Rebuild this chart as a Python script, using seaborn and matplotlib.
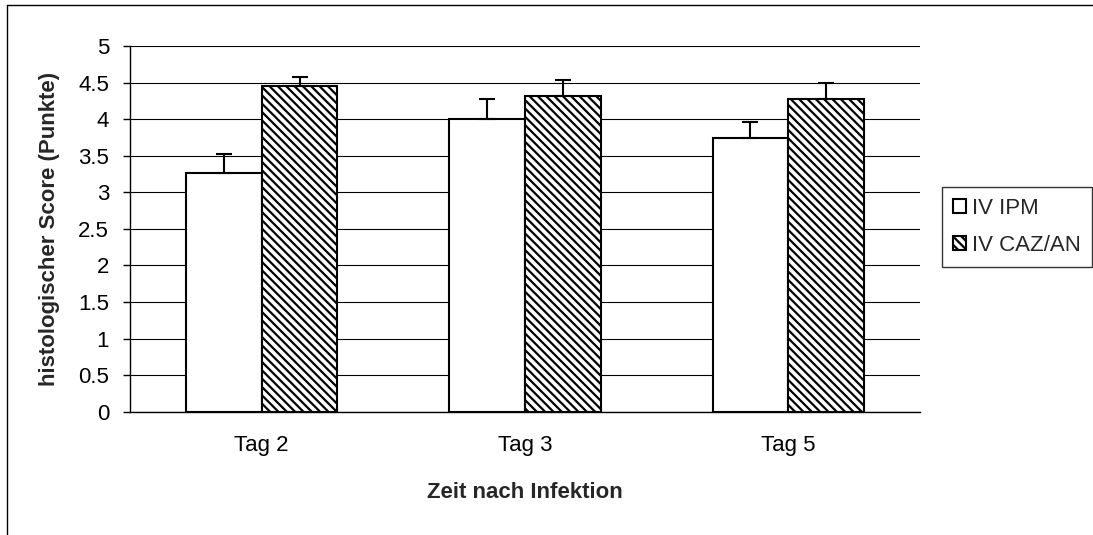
import matplotlib
matplotlib.use('Agg')
import matplotlib.pyplot as plt
import seaborn as sns
import pandas as pd
from matplotlib.lines import Line2D

# Data
days = ['Tag 2', 'Tag 3', 'Tag 5']
groups = ['IV IPM', 'IV CAZ/AN']
ipm_mean = [3.27, 4.00, 3.74]
ipm_err = [0.25, 0.28, 0.22]
caz_mean = [4.45, 4.31, 4.28]
caz_err = [0.13, 0.22, 0.22]
y_ticks = [0, 0.5, 1, 1.5, 2, 2.5, 3, 3.5, 4, 4.5, 5]

df = pd.DataFrame({
    'Tag': days * 2,
    'Gruppe': [groups[0]] * len(days) + [groups[1]] * len(days),
    'Score': ipm_mean + caz_mean,
})

sns.set_style('white')
plt.rcParams['font.family'] = ['Liberation Sans', 'DejaVu Sans']
plt.rcParams['hatch.linewidth'] = 1.6
plt.rcParams['hatch.color'] = 'black'

W, H = 1093, 535
fig = plt.figure(figsize=(W / 100, H / 100), dpi=100)
ax = fig.add_axes([130 / W, (H - 411.7) / H, 790 / W, 365.7 / H])

sns.barplot(data=df, x='Tag', y='Score', hue='Gruppe', order=days, hue_order=groups,
            width=0.575, errorbar=None, palette=['white', 'white'], saturation=1,
            edgecolor='black', linewidth=1.5, legend=False, ax=ax, zorder=3)

# one-sided error bars
for cont, errs in zip(ax.containers, [ipm_err, caz_err]):
    for bar, e in zip(cont, errs):
        x = bar.get_x() + bar.get_width() / 2
        ax.errorbar(x, bar.get_height(), yerr=[[0], [e]], fmt='none', ecolor='black',
                    elinewidth=1.5, capsize=5.5, capthick=1.5, zorder=4)

for bar in ax.containers[1]:
    bar.set_hatch('\\\\\\\\')

ax.set_ylim(0, 5)
ax.set_xlim(-0.5, len(days) - 0.5)
ax.set_yticks(y_ticks)
ax.set_yticklabels([f'{v:g}' for v in y_ticks])
ax.yaxis.grid(True, color='black', linewidth=0.8)
ax.set_axisbelow(True)

for s in ['top', 'right']:
    ax.spines[s].set_visible(False)
for s in ['left', 'bottom']:
    ax.spines[s].set_color('black')
    ax.spines[s].set_linewidth(1)

ax.set_xticks([i - 0.5 for i in range(len(days) + 1)], minor=True)
ax.tick_params(axis='x', which='major', length=0, pad=17, labelsize=16, colors='black')
ax.tick_params(axis='x', which='minor', length=6, width=1, color='black', direction='out')
ax.tick_params(axis='y', which='major', length=5, width=1, color='black', direction='out',
               left=True, pad=10, labelsize=16, labelcolor='black')

ax.set_xlabel('Zeit nach Infektion', fontsize=16, fontweight='bold')
ax.set_ylabel('histologischer Score (Punkte)', fontsize=16, fontweight='bold')
ax.xaxis.set_label_coords(0.5, (411.7 - 492) / 365.7)
ax.xaxis.label.set_va('center')
ax.yaxis.set_label_coords((50 - 130) / 790, 0.5)
ax.yaxis.label.set_va('center')

handles = [ax.containers[0][0], ax.containers[1][0]]
leg = ax.legend(handles, groups, loc='upper left', bbox_to_anchor=(942 / W, 1 - 187 / H),
                bbox_transform=fig.transFigure, borderaxespad=0, fontsize=16,
                frameon=True, fancybox=False, shadow=False, edgecolor='black',
                borderpad=0.5, labelspacing=0.7, handlelength=0.6, handleheight=0.6,
                handletextpad=0.25)
leg.get_frame().set_linewidth(1)

# outer chart border (left and top visible)
fig.add_artist(Line2D([7 / W, 7 / W], [0, 1 - 5 / H], transform=fig.transFigure,
                      color='black', linewidth=1))
fig.add_artist(Line2D([7 / W, 1], [1 - 5 / H, 1 - 5 / H], transform=fig.transFigure,
                      color='black', linewidth=1))

fig.savefig('out.png', dpi=100)
